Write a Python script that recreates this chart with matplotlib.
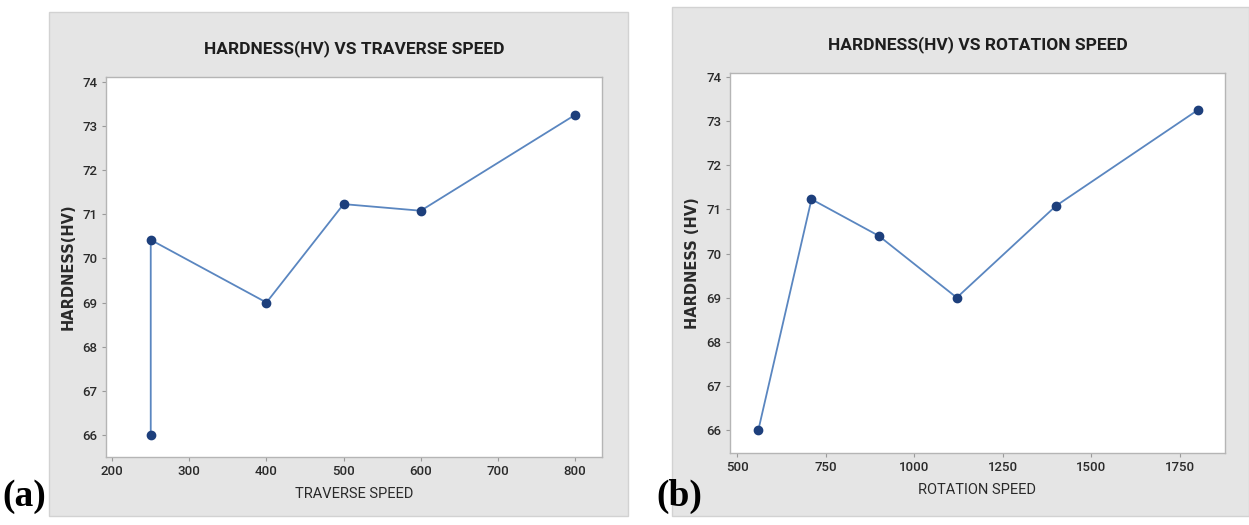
import matplotlib
matplotlib.use("Agg")
import matplotlib.pyplot as plt
from matplotlib.patches import Rectangle

# Data
traverse_speed = [250, 250, 400, 500, 600, 800]
hardness_traverse = [66.0, 70.42, 69.0, 71.23, 71.08, 73.25]

rotation_speed = [560, 710, 900, 1120, 1400, 1800]
hardness_rotation = [66.0, 71.23, 70.40, 69.0, 71.08, 73.25]

y_ticks = [66, 67, 68, 69, 70, 71, 72, 73, 74]
x_ticks_a = [200, 300, 400, 500, 600, 700, 800]
x_ticks_b = [500, 750, 1000, 1250, 1500, 1750]

narrow = ["Roboto", "DejaVu Sans"]
line_color = "#5a86c0"
marker_color = "#1d3f7c"
panel_gray = "#e5e5e5"

fig = plt.figure(figsize=(12.49, 5.25), dpi=100)
fig.patch.set_facecolor("white")

# gray panel backgrounds (Minitab style), kept behind the axes
fig.patches.append(Rectangle((49 / 1249, 1 - 516 / 525), 579 / 1249, 504 / 525,
                             transform=fig.transFigure, facecolor=panel_gray,
                             edgecolor="#d2d2d2", linewidth=1, zorder=-1))
fig.patches.append(Rectangle((672 / 1249, 1 - 516 / 525), 577 / 1249, 509 / 525,
                             transform=fig.transFigure, facecolor=panel_gray,
                             edgecolor="#d2d2d2", linewidth=1, zorder=-1))


def draw_panel(ax, x, y, xticks, xlim, ylim, title, xlabel, ylabel):
    ax.plot(x, y, color=line_color, linewidth=1.3, zorder=2)
    ax.plot(x, y, "o", color=marker_color, markersize=6, zorder=3)
    ax.set_xlim(xlim)
    ax.set_ylim(ylim)
    ax.set_xticks(xticks)
    ax.set_yticks(y_ticks)
    ax.set_facecolor("white")
    for s in ax.spines.values():
        s.set_color("#b5b5b5")
        s.set_linewidth(1.0)
    ax.tick_params(direction="out", length=3, width=0.8, color="#9a9a9a",
                   labelsize=9.5, labelcolor="#2a2a2a", pad=3)
    for lab in ax.get_xticklabels() + ax.get_yticklabels():
        lab.set_family(narrow)
        lab.set_fontweight("medium")
    ax.set_title(title, family=narrow, fontsize=12.5, fontweight="bold",
                 color="#1e1e1e", pad=17)
    ax.set_xlabel(xlabel, family=narrow, fontsize=10.5, color="#2a2a2a",
                  labelpad=6)
    ax.set_ylabel(ylabel, family="DejaVu Sans", fontsize=10.5,
                  fontweight="bold", color="#2a2a2a", labelpad=5)


# ---------------- (a) Traverse speed ----------------
ax1 = fig.add_axes([106 / 1249, 1 - 457 / 525, 496 / 1249, 380 / 525])
draw_panel(ax1, traverse_speed, hardness_traverse, x_ticks_a, (192, 835),
           (65.5, 74.11), "HARDNESS(HV) VS TRAVERSE SPEED", "TRAVERSE SPEED",
           "HARDNESS(HV)")

# ---------------- (b) Rotation speed ----------------
ax2 = fig.add_axes([730 / 1249, 1 - 453 / 525, 495 / 1249, 380 / 525])
draw_panel(ax2, rotation_speed, hardness_rotation, x_ticks_b, (480, 1877),
           (65.48, 74.09), "HARDNESS(HV) VS ROTATION SPEED", "ROTATION SPEED",
           "HARDNESS (HV)")

# panel letters
fig.text(2 / 1249, 1 - 496 / 525, "(a)", family="Liberation Serif",
         fontsize=27, fontweight="bold", va="center", ha="left")
fig.text(656 / 1249, 1 - 496 / 525, "(b)", family="Liberation Serif",
         fontsize=27, fontweight="bold", va="center", ha="left")

plt.savefig("out.png", dpi=100)
